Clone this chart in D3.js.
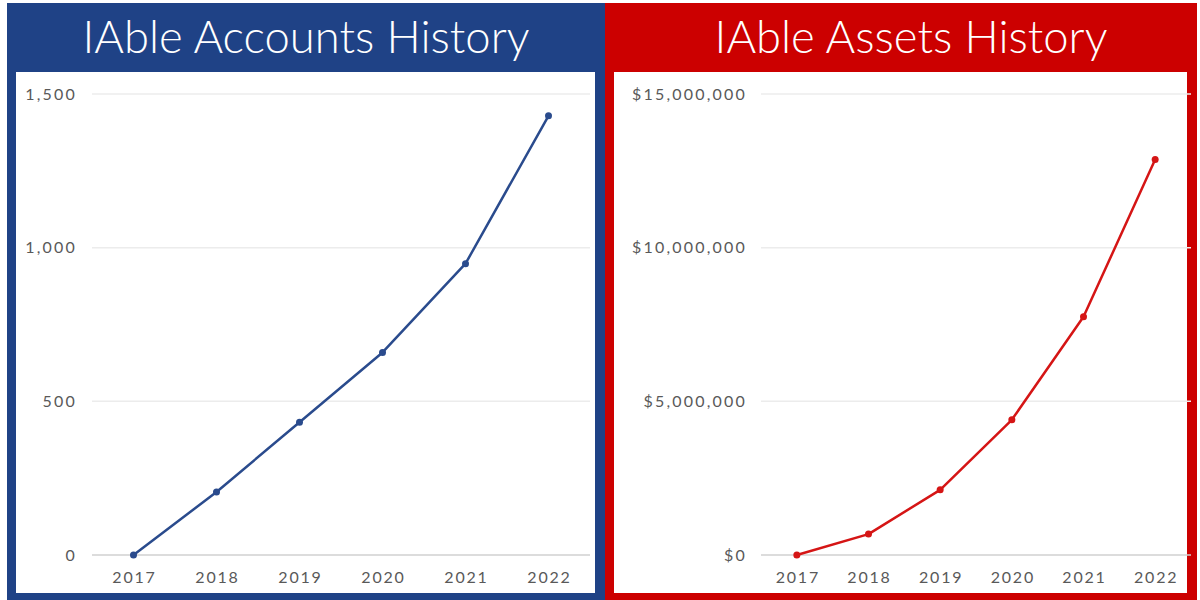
<!DOCTYPE html>
<html>
	<head>
		<title>IAble History</title>
		<style>
			body, html {
				margin: 0;
				padding: 0;
				background: #fff;
			}
			text { font-family: Lato, "Open Sans", sans-serif; }
		</style>
	</head>
	<body>

		<svg id="svg" width="1200" height="600"></svg>

		<script src="https://d3js.org/d3.v7.min.js"></script>
		<script>
		// Data
		const years = ['2017', '2018', '2019', '2020', '2021', '2022']
		const accounts = [0, 205, 432, 659, 948, 1429]
		const assets = [0, 680000, 2120000, 4400000, 7750000, 12870000]
		const accountTicks = [0, 500, 1000, 1500]
		const assetTicks = [0, 5000000, 10000000, 15000000]

		const svg = d3.select('#svg')

		// One panel = coloured frame, title, white plot box, line chart
		function drawPanel(opt) {
			const g = svg.append('g')

			// outer coloured frame
			g.append('rect')
				.attr('x', opt.x0).attr('y', 3)
				.attr('width', opt.x1 - opt.x0).attr('height', 597)
				.attr('fill', opt.color)

			// white inner box
			g.append('rect')
				.attr('x', opt.x0 + 9).attr('y', 72)
				.attr('width', opt.x1 - opt.x0 - 19).attr('height', 521)
				.attr('fill', '#fff')

			// title, sized to the width seen in the reference
			const title = g.append('text')
				.attr('x', opt.titleX).attr('y', 53)
				.attr('text-anchor', 'middle')
				.attr('fill', '#fff')
				.attr('font-weight', 300)
				.attr('font-size', 40)
				.text(opt.title)
			const w = title.node().getComputedTextLength()
			title.attr('font-size', 40 * opt.titleW / w)

			// scales
			const xscale = d3.scaleBand()
				.domain(years)
				.range([opt.left, opt.right])
			const yscale = d3.scaleLinear()
				.domain([0, d3.max(opt.ticks)])
				.range([555, 94])

			// grid lines
			g.selectAll('.grid')
				.data(opt.ticks)
				.join('line')
				.attr('x1', opt.left).attr('x2', opt.right)
				.attr('y1', d => yscale(d)).attr('y2', d => yscale(d))
				.attr('stroke', d => d === 0 ? '#d0d0d0' : '#ececec')
				.attr('stroke-width', 1.5)

			// left axis labels
			const leftAxis = d3.axisLeft(yscale)
				.tickValues(opt.ticks)
				.tickFormat(opt.fmt)
				.tickSize(0)
				.tickPadding(0)
			const ya = g.append('g')
				.attr('transform', `translate(${opt.labelX}, 0)`)
				.call(leftAxis)
			ya.select('.domain').remove()
			ya.selectAll('text')
				.attr('font-family', 'Lato, sans-serif')
				.attr('font-size', 16)
				.attr('letter-spacing', 2.2)
				.attr('fill', '#595959')

			// bottom axis labels
			const bottomAxis = d3.axisBottom(xscale)
				.tickSize(0)
				.tickPadding(0)
			const xa = g.append('g')
				.attr('transform', 'translate(1, 572)')
				.call(bottomAxis)
			xa.select('.domain').remove()
			xa.selectAll('text')
				.attr('font-family', 'Lato, sans-serif')
				.attr('font-size', 16)
				.attr('letter-spacing', 1.8)
				.attr('fill', '#595959')

			// line + markers
			const pts = years.map((y, i) => ({ year: y, v: opt.values[i] }))
			const cx = d => xscale(d.year) + xscale.bandwidth() / 2
			const linegen = d3.line()
				.x(cx)
				.y(d => yscale(d.v))

			g.append('path')
				.attr('d', linegen(pts))
				.attr('fill', 'none')
				.attr('stroke', opt.lineColor)
				.attr('stroke-width', 2.5)
				.attr('stroke-linejoin', 'round')

			g.selectAll('.dot')
				.data(pts)
				.join('circle')
				.attr('cx', cx)
				.attr('cy', d => yscale(d.v))
				.attr('r', 3.5)
				.attr('fill', opt.lineColor)
		}

		drawPanel({
			x0: 7, x1: 605,
			color: '#1f4286',
			lineColor: '#2a4b8d',
			title: 'IAble Accounts History',
			titleX: 306, titleW: 447,
			left: 92, right: 590,
			labelX: 77,
			values: accounts,
			ticks: accountTicks,
			fmt: d3.format(',')
		})

		drawPanel({
			x0: 605, x1: 1197,
			color: '#cc0000',
			lineColor: '#d51515',
			title: 'IAble Assets History',
			titleX: 911, titleW: 393,
			left: 761, right: 1191,
			labelX: 747,
			values: assets,
			ticks: assetTicks,
			fmt: d => '$' + d3.format(',')(d)
		})
		</script>
	</body>
</html>
